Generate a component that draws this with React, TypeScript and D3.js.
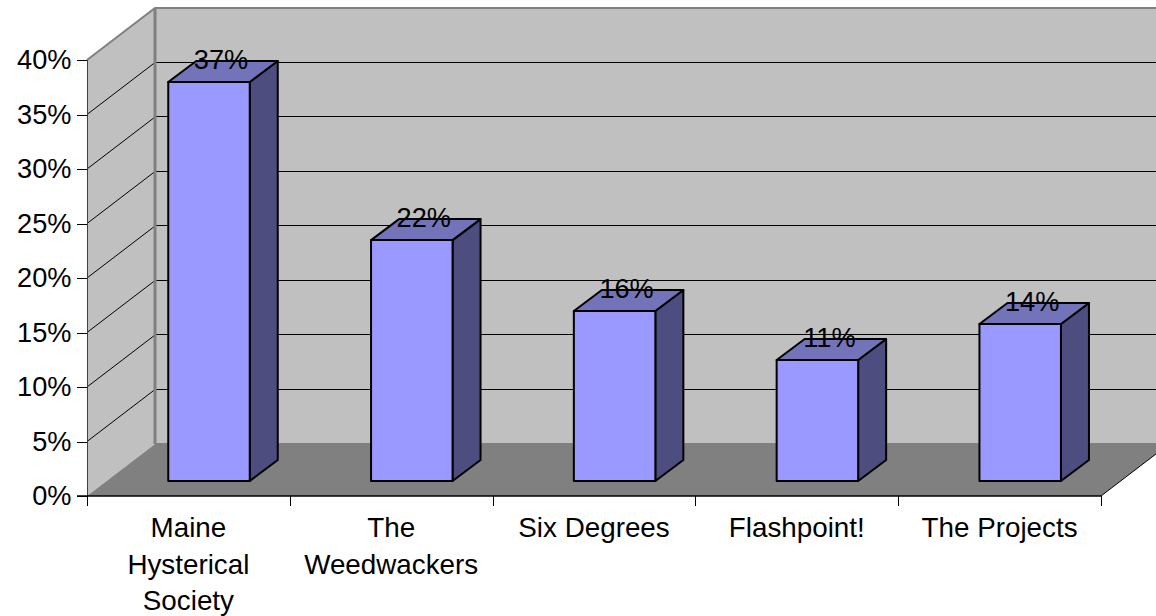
import React from 'react';
import * as d3 from 'd3';

const categories: string[][] = [
  ['Maine', 'Hysterical', 'Society'],
  ['The', 'Weedwackers'],
  ['Six Degrees'],
  ['Flashpoint!'],
  ['The Projects'],
];
const values = [36.6, 22.1, 15.6, 11.1, 14.4];
const valueLabels = ['37%', '22%', '16%', '11%', '14%'];
const yTicks = [0, 5, 10, 15, 20, 25, 30, 35, 40];

const width = 1156;
const height = 616;
const FONT = '"Liberation Sans", Arial, sans-serif';
const categoryFontSize = 27.8;
const valueFontSize = 27.2;

// oblique projection: how far the back wall sits from the front plane
const wallDx = 68;
const wallDy = 52;
const barOffsetDx = 20.6;
const barOffsetDy = 15;
const barDx = 28;
const barDy = 21;
const barWidth = 81.5;

const x = d3.scaleBand<number>().domain(d3.range(categories.length)).range([87, 1101]);
const y = d3.scaleLinear().domain([0, 40]).range([496, 60]);

const poly = (pts: [number, number][]) => pts.map((p) => p.join(',')).join(' ');
const crisp = (v: number) => Math.round(v) + 0.5;

export default function App() {
  const x0 = x.range()[0];
  const x1 = x.range()[1];
  const y0 = y(0);
  const yMax = y(40);

  return (
    <svg
      width={width}
      height={height}
      style={{ position: 'absolute', left: 0, top: 0, background: '#fff' }}
      fontFamily={FONT}
    >
      {/* back wall */}
      <rect x={x0 + wallDx} y={yMax - wallDy} width={x1 - x0} height={y0 - yMax} fill="#c0c0c0" />
      {/* side wall */}
      <polygon
        points={poly([[x0, yMax], [x0 + wallDx, yMax - wallDy], [x0 + wallDx, y0 - wallDy], [x0, y0]])}
        fill="#c0c0c0"
      />
      {/* floor */}
      <polygon
        points={poly([[x0, y0], [x0 + wallDx, y0 - wallDy], [x1 + wallDx, y0 - wallDy], [x1, y0]])}
        fill="#808080"
      />

      {/* gridlines */}
      {yTicks.filter((t) => t > 0 && t < 40).map((t) => (
        <g key={t} stroke="#000" strokeWidth={1}>
          <line x1={x0} y1={y(t)} x2={x0 + wallDx} y2={y(t) - wallDy} />
          <line x1={x0 + wallDx} y1={crisp(y(t) - wallDy) - 1} x2={x1 + wallDx} y2={crisp(y(t) - wallDy) - 1} />
        </g>
      ))}

      {/* wall edges */}
      <g stroke="#808080" fill="none">
        <polyline
          points={poly([[x0, yMax], [x0 + wallDx, yMax - wallDy], [x1 + wallDx, yMax - wallDy]])}
          strokeWidth={2}
        />
        <line x1={x0 + wallDx} y1={yMax - wallDy} x2={x0 + wallDx} y2={y0 - wallDy} strokeWidth={3} />
        <line x1={x0 + wallDx} y1={y0 - wallDy} x2={x1 + wallDx} y2={y0 - wallDy} strokeWidth={2} />
        <line x1={x0 + 0.5} y1={yMax} x2={x0 + 0.5} y2={y0} stroke="#404040" strokeWidth={1} />
      </g>

      {/* axes */}
      <g stroke="#000" strokeWidth={1}>
        <line x1={x0 - 10} y1={y0} x2={x1} y2={y0} strokeWidth={1.5} />
        <line x1={x1} y1={y0} x2={x1 + wallDx} y2={y0 - wallDy} />
        {yTicks.map((t) => (
          <line key={t} x1={x0 - 10} y1={crisp(y(t))} x2={x0} y2={crisp(y(t))} />
        ))}
        {d3.range(categories.length + 1).map((i) => {
          const tx = crisp(i < categories.length ? (x(i) as number) : x1);
          return <line key={i} x1={tx} y1={y0} x2={tx} y2={y0 + 10} />;
        })}
      </g>

      {/* tick labels */}
      <g fill="#000">
        {yTicks.map((t) => (
          <text key={t} x={71.5} y={y(t) + 9} textAnchor="end" fontSize={valueFontSize}>
            {t}%
          </text>
        ))}
        {categories.map((lines, i) =>
          lines.map((line, j) => (
            <text
              key={line}
              x={(x(i) as number) + x.bandwidth() / 2}
              y={y0 + 41 + j * 36.5}
              textAnchor="middle"
              fontSize={categoryFontSize}
            >
              {line}
            </text>
          ))
        )}
      </g>

      {/* bars */}
      {values.map((v, i) => {
        const left = (x(i) as number) + x.bandwidth() / 2 + barOffsetDx - barWidth / 2;
        const right = left + barWidth;
        const bottom = y0 - barOffsetDy;
        const top = y(v) - barOffsetDy;
        return (
          <g key={i} stroke="#000" strokeWidth={2} strokeLinejoin="round">
            <polygon
              points={poly([[right, bottom], [right + barDx, bottom - barDy], [right + barDx, top - barDy], [right, top]])}
              fill="#4d4d80"
            />
            <polygon
              points={poly([[left, top], [left + barDx, top - barDy], [right + barDx, top - barDy], [right, top]])}
              fill="#7373b9"
            />
            <rect x={left} y={top} width={barWidth} height={bottom - top} fill="#9999ff" />
          </g>
        );
      })}

      {/* data labels */}
      <g fontSize={valueFontSize} fill="#000" textAnchor="middle">
        {values.map((v, i) => (
          <text
            key={i}
            x={(x(i) as number) + x.bandwidth() / 2 + barOffsetDx + barDx / 2 - 2}
            y={y(v) - barOffsetDy - barDy + 8}
          >
            {valueLabels[i]}
          </text>
        ))}
      </g>
    </svg>
  );
}
